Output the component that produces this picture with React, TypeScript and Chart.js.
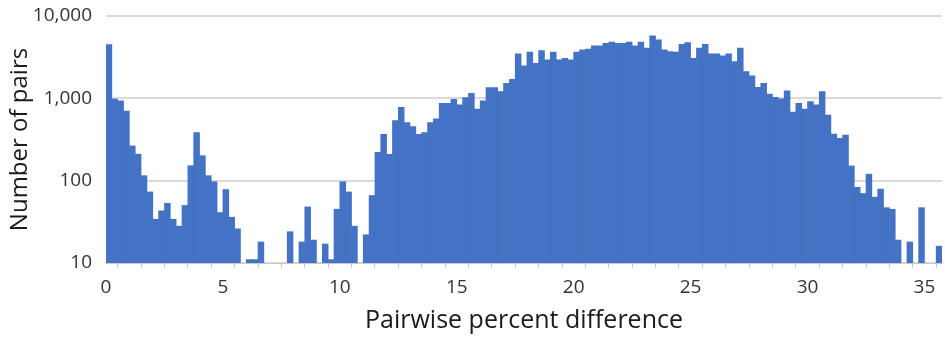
import React, { useEffect, useRef } from "react";
import { Chart, registerables } from "chart.js";

Chart.register(...registerables);

// Histogram bin width (percent difference units)
const binWidth = 0.25;

// Number of pairs per bin, bins starting at 0, 0.25, 0.5, ... (null = empty bin)
const pairCounts: (number | null)[] = [
  4500, 980, 930, 700, 264, 210, 115, 73, 34, 43,
  53, 34, 28, 50, 152, 383, 201, 115, 97, 41,
  78, 36, 26, null, 11, 11, 18, null, null, null,
  null, 24, null, 18, 48, 19, null, 17, 11, 45,
  97, 73, 28, null, 22, 66, 221, 366, 209, 535,
  780, 507, 453, 366, 383, 507, 562, 871, 871, 975,
  832, 1020, 1153, 743, 930, 1350, 1350, 1205, 1525, 1706,
  3470, 2477, 3634, 2667, 3800, 2930, 3634, 2930, 3070, 2930,
  3634, 3873, 3955, 4335, 4335, 4670, 4810, 4670, 4670, 4810,
  4335, 4810, 4065, 5730, 5130, 3873, 3690, 3634, 4540, 4750,
  3070, 4065, 4540, 3470, 3470, 3273, 3470, 2793, 4065, 2110,
  1870, 1364, 1525, 1130, 1030, 985, 1230, 680, 871, 743,
  912, 832, 1205, 628, 369, 327, 359, 151, 83, 70,
  120, 63, 79, 47, 45, 19, null, 18, null, 47,
  null, null, 16,
];

// Axis ticks
const yTickValues = [10, 100, 1000, 10000];
const xTickValues = [
  0, 1, 2, 3, 4, 5, 6, 7, 8, 9, 10, 11, 12, 13, 14, 15, 16, 17,
  18, 19, 20, 21, 22, 23, 24, 25, 26, 27, 28, 29, 30, 31, 32, 33, 34, 35,
];
const xLabelTicks = [0, 5, 10, 15, 20, 25, 30, 35];

const xTitle = "Pairwise percent difference";
const yTitle = "Number of pairs";

const FONT = "'Open Sans', 'Noto Sans', sans-serif";

export default function App() {
  const canvasRef = useRef<HTMLCanvasElement | null>(null);

  useEffect(() => {
    const canvas = canvasRef.current;
    if (!canvas) return;
    const points = pairCounts.map((v, i) => ({
      x: i * binWidth + binWidth / 2,
      y: v,
    }));
    const chart = new Chart(canvas, {
      type: "bar",
      data: {
        datasets: [
          {
            data: points as any,
            backgroundColor: "#4472C4",
            borderWidth: 0,
            barPercentage: 1,
            categoryPercentage: 1,
          },
        ],
      },
      options: {
        animation: false,
        responsive: false,
        maintainAspectRatio: false,
        devicePixelRatio: 1,
        layout: { padding: { top: 16, right: 3, left: 0, bottom: 0 } },
        plugins: {
          legend: { display: false },
          tooltip: { enabled: false },
        },
        scales: {
          x: {
            type: "linear",
            min: 0,
            max: pairCounts.length * binWidth,
            offset: false,
            afterBuildTicks: (axis: any) => {
              axis.ticks = xTickValues.map((v) => ({ value: v }));
            },
            afterFit: (axis: any) => {
              axis.height = 74;
              axis.paddingLeft = 0;
              axis.paddingRight = 0;
            },
            ticks: {
              autoSkip: false,
              maxRotation: 0,
              padding: 8,
              color: "#333333",
              font: { family: FONT, size: 19 },
              callback: (v: any) =>
                xLabelTicks.includes(Number(v)) ? String(v) : "",
            },
            grid: {
              drawOnChartArea: false,
              drawTicks: true,
              tickLength: 5,
              color: "#c8c8c8",
              lineWidth: 1,
            },
            border: { display: true, color: "#c8c8c8", width: 1 },
            title: {
              display: true,
              text: xTitle,
              color: "#1a1a1a",
              font: { family: FONT, size: 25, lineHeight: 1.2 },
              padding: { top: 0, bottom: 1 },
            },
          },
          y: {
            type: "logarithmic",
            min: 10,
            max: 10000,
            afterBuildTicks: (axis: any) => {
              axis.ticks = yTickValues.map((v) => ({ value: v }));
            },
            afterFit: (axis: any) => {
              axis.width = 106;
              axis.paddingTop = 0;
              axis.paddingBottom = 0;
            },
            ticks: {
              padding: 14,
              color: "#333333",
              font: { family: FONT, size: 19 },
              callback: (v: any) => Number(v).toLocaleString("en-US"),
            },
            grid: {
              drawTicks: false,
              color: "#dadada",
              lineWidth: 2,
            },
            border: { display: false },
            title: {
              display: true,
              text: yTitle,
              color: "#1a1a1a",
              font: { family: FONT, size: 24, lineHeight: 1.2 },
              padding: { top: 6, bottom: 0 },
            },
          },
        },
      },
    });
    return () => chart.destroy();
  }, []);

  return (
    <div
      style={{
        position: "absolute",
        left: 0,
        top: 0,
        width: 945,
        height: 337,
        background: "#ffffff",
      }}
    >
      <canvas ref={canvasRef} width={945} height={337} />
    </div>
  );
}
